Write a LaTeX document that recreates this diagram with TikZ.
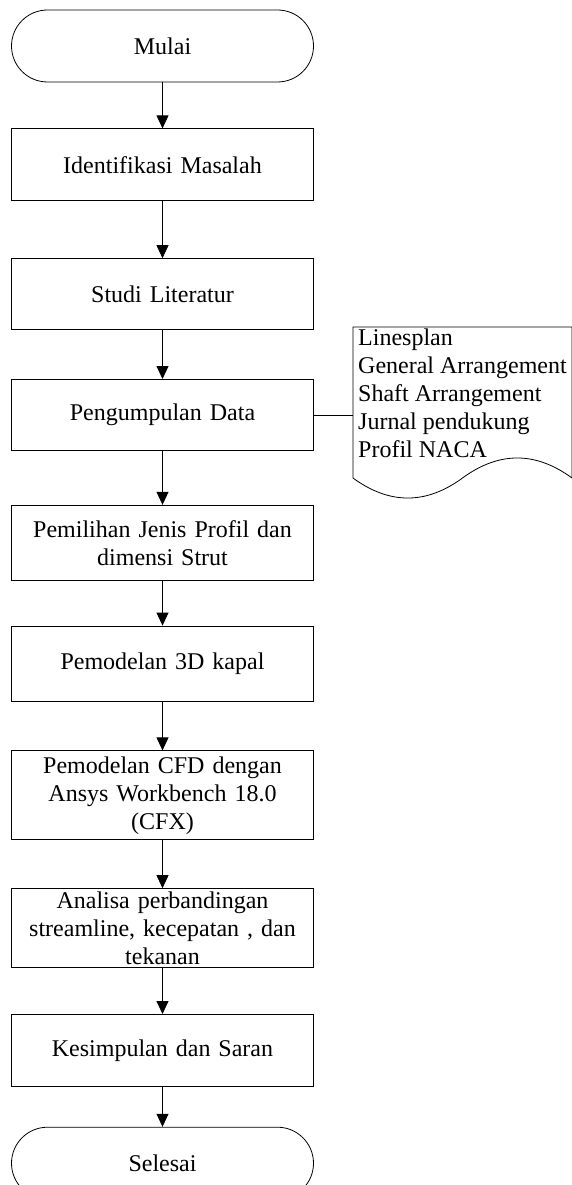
\documentclass[tikz,border=0pt]{standalone}
\usepackage{fontspec}
\setmainfont{Liberation Serif}
\usetikzlibrary{arrows.meta,positioning,calc}

\tikzset{
  flowbox/.style={draw, shape=rectangle, minimum width=302pt, text width=302pt,
    align=center, inner sep=0pt, line width=0.8pt, font=\fontsize{24}{28}\selectfont},
  terminal/.style={flowbox, rounded corners=36pt, minimum height=72pt},
  doctext/.style={align=left, inner xsep=5pt, inner ysep=1.5pt, font=\fontsize{24}{28}\selectfont},
  flowarrow/.style={-{Triangle[length=13pt,width=12pt]}, line width=0.8pt}
}

\begin{document}
\begin{tikzpicture}[x=1pt,y=1pt]
      \useasboundingbox (0,0) rectangle (571,-1185);

      \node[terminal] (mulai) at (162.5,-46) {Mulai};
      \node[flowbox, minimum height=72pt, below=46pt of mulai] (ident) {Identifikasi Masalah};
      \node[flowbox, minimum height=71pt, below=57pt of ident] (studi) {Studi Literatur};
      \node[flowbox, minimum height=71pt, below=49pt of studi] (data) {Pengumpulan Data};
      \node[flowbox, minimum height=75pt, below=54pt of data] (profil)
        {Pemilihan Jenis Profil dan\\dimensi Strut};
      \node[flowbox, minimum height=75pt, below=45pt of profil] (model) {Pemodelan 3D kapal};
      \node[flowbox, minimum height=89pt, below=49pt of model] (cfd)
        {Pemodelan CFD dengan\\Ansys Workbench 18.0\\(CFX)};
      \node[flowbox, minimum height=79pt, below=48pt of cfd] (analisa)
        {Analisa perbandingan\\streamline, kecepatan , dan\\tekanan};
      \node[flowbox, minimum height=72pt, below=46pt of analisa] (hasil) {Kesimpulan dan Saran};
      \node[terminal, below=40pt of hasil] (selesai) {Selesai};

      % document with the input data
      \coordinate (docnw) at (353,-327);
      \node[doctext, anchor=north west] (sumber) at (docnw)
        {Linesplan\\General Arrangement\\Shaft Arrangement\\Jurnal pendukung\\Profil NACA};
      \draw[line width=0.8pt] (353,-478) -- (docnw) -- (572,-327) -- (572,-478)
        .. controls (535.5,-451.3) and (499,-451.3) .. (462.5,-478)
        .. controls (426,-504.7) and (389.5,-504.7) .. cycle;
      \coordinate (docin) at (data.east -| docnw);

      \draw[flowarrow] (mulai) -- (ident);
      \draw[flowarrow] (ident) -- (studi);
      \draw[flowarrow] (studi) -- (data);
      \draw[flowarrow] (data) -- (profil);
      \draw[flowarrow] (profil) -- (model);
      \draw[flowarrow] (model) -- (cfd);
      \draw[flowarrow] (cfd) -- (analisa);
      \draw[flowarrow] (analisa) -- (hasil);
      \draw[flowarrow] (hasil) -- (selesai);
      \draw[line width=0.8pt] (data) -- (docin);
    \end{tikzpicture}
\end{document}
